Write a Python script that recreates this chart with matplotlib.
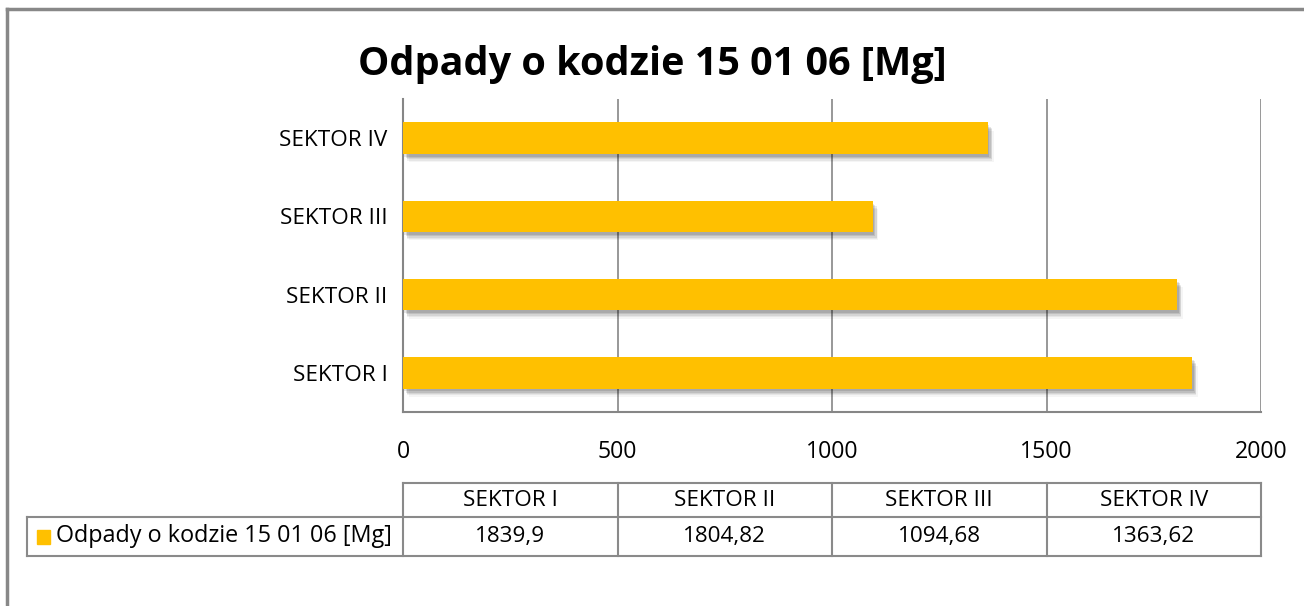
import matplotlib
matplotlib.use("Agg")
import matplotlib.pyplot as plt
import matplotlib.transforms as mtransforms
from matplotlib import patheffects as pe
from matplotlib.patches import Rectangle
from matplotlib.lines import Line2D

categories = ["SEKTOR I", "SEKTOR II", "SEKTOR III", "SEKTOR IV"]
values = [1839.9, 1804.82, 1094.68, 1363.62]
value_labels = ["1839,9", "1804,82", "1094,68", "1363,62"]
series_name = "Odpady o kodzie 15 01 06 [Mg]"
title = "Odpady o kodzie 15 01 06 [Mg]"
xticks = [0, 500, 1000, 1500, 2000]

plt.rcParams['font.family'] = ['Open Sans', 'DejaVu Sans']

W, H = 1304, 606
fig = plt.figure(figsize=(W / 100, H / 100), dpi=100)

def fy(py):
    return 1 - py / H

def fx(px):
    return px / W

bar_color = "#FFC000"
grid_color = "#868686"
FS = 16.2

ax = fig.add_axes([fx(403), fy(412), fx(1261) - fx(403), fy(99) - fy(412)])
ypos = list(range(len(categories)))
bars = ax.barh(ypos, values, height=0.4, color=bar_color, zorder=3)
shadow = []
for off, a in [((1, -2), 0.10), ((2, -3), 0.10), ((3, -4), 0.08), ((3, -5), 0.06), ((4, -6), 0.04)]:
    shadow.append(pe.SimplePatchShadow(offset=off, shadow_rgbFace="#000000", alpha=a))
for b in bars:
    b.set_path_effects(shadow + [pe.Normal()])

ax.set_xlim(0, 2000)
ax.set_ylim(-0.5, len(categories) - 0.5)
ax.set_xticks(xticks)
ax.set_xticklabels([str(t) for t in xticks], fontsize=FS + 0.5)
ax.set_yticks(ypos)
ax.set_yticklabels(categories, fontsize=FS)
ax.tick_params(axis='both', length=0)
ax.tick_params(axis='x', pad=20)
ax.tick_params(axis='y', pad=11)
ax.xaxis.grid(True, color=grid_color, linewidth=1.2, zorder=0)
ax.set_axisbelow(True)
for s in ["top", "right"]:
    ax.spines[s].set_visible(False)
for s in ["left", "bottom"]:
    ax.spines[s].set_color(grid_color)
    ax.spines[s].set_linewidth(1.5)

fig.text(fx(652), fy(64), title, ha='center', va='center', fontsize=28.5, fontweight='bold')

# Outer border (left and top)
fig.add_artist(Line2D([fx(7), fx(7)], [0, fy(9)], color="#888888", lw=2.5, transform=fig.transFigure))
fig.add_artist(Line2D([fx(7), 1], [fy(9), fy(9)], color="#888888", lw=2.5, transform=fig.transFigure))

# Data table
tr = mtransforms.blended_transform_factory(ax.transData, fig.transFigure)
tcol = "#8a8a8a"
y_top, y_mid, y_bot = fy(483), fy(517), fy(556)
edges = xticks
fig.add_artist(Line2D([edges[0], edges[-1]], [y_top, y_top], color=tcol, lw=1.5, transform=tr))
fig.add_artist(Line2D([fx(27), fx(1261)], [y_mid, y_mid], color=tcol, lw=1.5, transform=fig.transFigure))
fig.add_artist(Line2D([fx(27), fx(1261)], [y_bot, y_bot], color=tcol, lw=1.5, transform=fig.transFigure))
fig.add_artist(Line2D([fx(27), fx(27)], [y_bot, y_mid], color=tcol, lw=1.5, transform=fig.transFigure))
for e in edges:
    fig.add_artist(Line2D([e, e], [y_bot, y_top], color=tcol, lw=1.5, transform=tr))
for i, (c, v) in enumerate(zip(categories, value_labels)):
    xc = (edges[i] + edges[i + 1]) / 2
    fig.text(xc, (y_top + y_mid) / 2, c, ha='center', va='center', fontsize=FS, transform=tr)
    fig.text(xc, (y_mid + y_bot) / 2, v, ha='center', va='center', fontsize=FS, transform=tr)

# legend key in table
fig.add_artist(Rectangle((fx(37), fy(544)), fx(13), fy(530) - fy(544), color=bar_color, transform=fig.transFigure))
fig.text(fx(56), (y_mid + y_bot) / 2, series_name, ha='left', va='center', fontsize=FS + 0.6)

fig.savefig("out.png", dpi=100)
